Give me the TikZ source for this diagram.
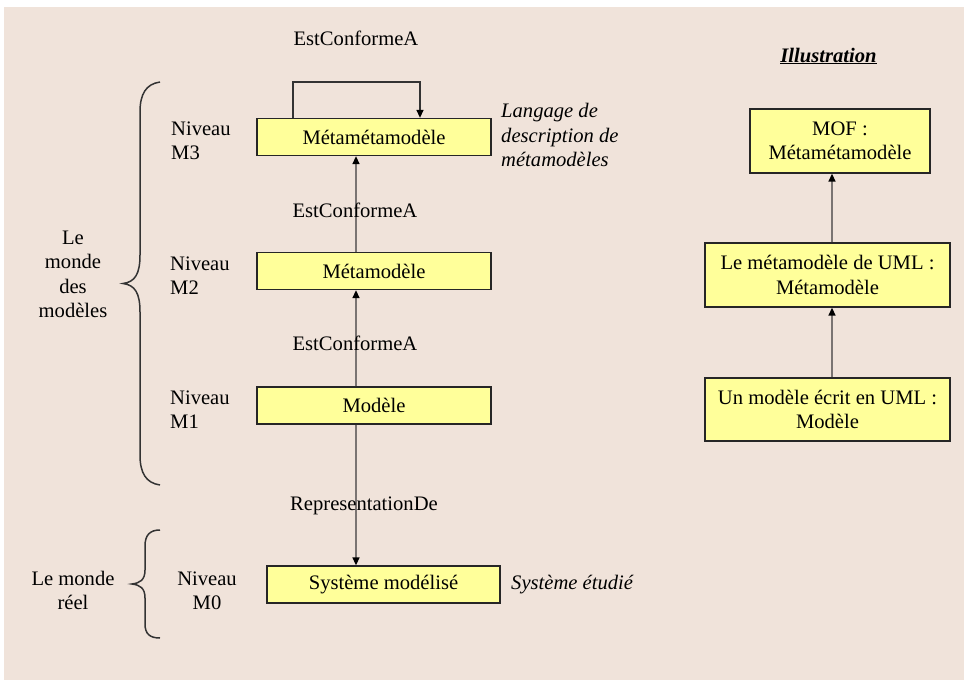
\documentclass[tikz,border=0pt]{standalone}
\usepackage{fontspec}
\setmainfont{Liberation Serif}
\usetikzlibrary{arrows.meta}
\definecolor{bgc}{HTML}{F0E3DA}
\definecolor{boxfill}{HTML}{FFFF9A}
\definecolor{linegrey}{HTML}{7A7472}
\tikzset{
  every node/.style={font=\fontsize{20.6}{24.5}\selectfont, inner sep=0pt},
  box/.style={draw=black!85, line width=1.3pt, fill=boxfill, minimum width=234pt, minimum height=37pt, align=center},
  rbox/.style={draw=black!85, line width=1.3pt, fill=boxfill, minimum height=63pt, align=center},
  conn/.style={draw=linegrey, line width=1.4pt, -{Triangle[length=8pt,width=7pt,color=black]}},
  loopconn/.style={draw=black!80, line width=1.4pt, -{Triangle[length=8pt,width=7pt,color=black]}},
  brace/.style={draw=black!80, line width=1.5pt},
  lbl/.style={align=center},
  note/.style={align=left, anchor=west, font=\fontsize{20.6}{24.5}\selectfont\itshape}
}
\begin{document}
\begin{tikzpicture}[x=1pt,y=-1pt]
\useasboundingbox (0,0) rectangle (964,680);
\fill[bgc] (4,7) rectangle (964,680);

% left column boxes
\node[box] (m3) at (374,137) {Métamétamodèle};
\node[box] (m2) at (374,271) {Métamodèle};
\node[box] (m1) at (374,405.5) {Modèle};
\node[box, minimum width=233pt] (m0) at (383.5,584.5) {Système modélisé};

% connectors
\coordinate (ax) at (356,0);
\coordinate (lpl) at (293,82);
\coordinate (lpr) at (420,82);
\draw[loopconn] (lpl |- m3.north) -- (lpl) -- (lpr) -- (lpr |- m3.north);
\draw[conn] (ax |- m2.north) -- (ax |- m3.south);
\draw[conn] (ax |- m1.north) -- (ax |- m2.south);
\draw[conn] (ax |- m1.south) -- (ax |- m0.north);

% connector labels
\node[lbl] (l3) at (356,38) {EstConformeA};
\node[lbl] (l2) at (355,210) {EstConformeA};
\node[lbl] (l1) at (355,343) {EstConformeA};
\node[lbl] (l0) at (364,506) {RepresentationDe};

% side notes
\node[note] (n3) at (501,135) {Langage de\\description de\\métamodèles};
\node[note] (n0) at (511,585) {Système étudié};

% level labels
\node[align=left, anchor=west] (v3) at (171,141) {Niveau\\M3};
\node[align=left, anchor=west] (v2) at (170,275.5) {Niveau\\M2};
\node[align=left, anchor=west] (v1) at (170,409.5) {Niveau\\M1};
\node[align=center] (v0) at (207,591) {Niveau\\M0};

% braces
\draw[brace] (160,82) .. controls (146,84) and (140,94) .. (140,112)
  -- (140,255) .. controls (140,274) and (135,282) .. (123,283.5)
  .. controls (135,285) and (140,293) .. (140,312)
  -- (140,455) .. controls (140,473) and (146,483) .. (160,485);
\draw[brace] (160,530) .. controls (150,530) and (145,535) .. (145,546)
  -- (145,570) .. controls (145,580) and (140,583) .. (132,584)
  .. controls (140,585) and (145,588) .. (145,598)
  -- (145,624) .. controls (145,634) and (150,638) .. (160,638);

\node[align=center] (w1) at (73,274.5) {Le\\monde\\des\\modèles};
\node[align=center] (w0) at (73,590.5) {Le monde\\réel};

% illustration
\node (ill) at (828.5,56) {\textbf{\textit{\underline{Illustration}}}};
\node[rbox, minimum width=180pt, minimum height=64pt] (r3) at (840,141) {MOF :\\Métamétamodèle};
\node[rbox, minimum width=245pt, minimum height=64pt] (r2) at (827.5,275) {Le métamodèle de UML :\\Métamodèle};
\node[rbox, minimum width=245pt] (r1) at (827.5,409.5) {Un modèle écrit en UML :\\Modèle};
\coordinate (rx) at (832,0);
\draw[conn] (rx |- r2.north) -- (rx |- r3.south);
\draw[conn] (rx |- r1.north) -- (rx |- r2.south);
\end{tikzpicture}
\end{document}
